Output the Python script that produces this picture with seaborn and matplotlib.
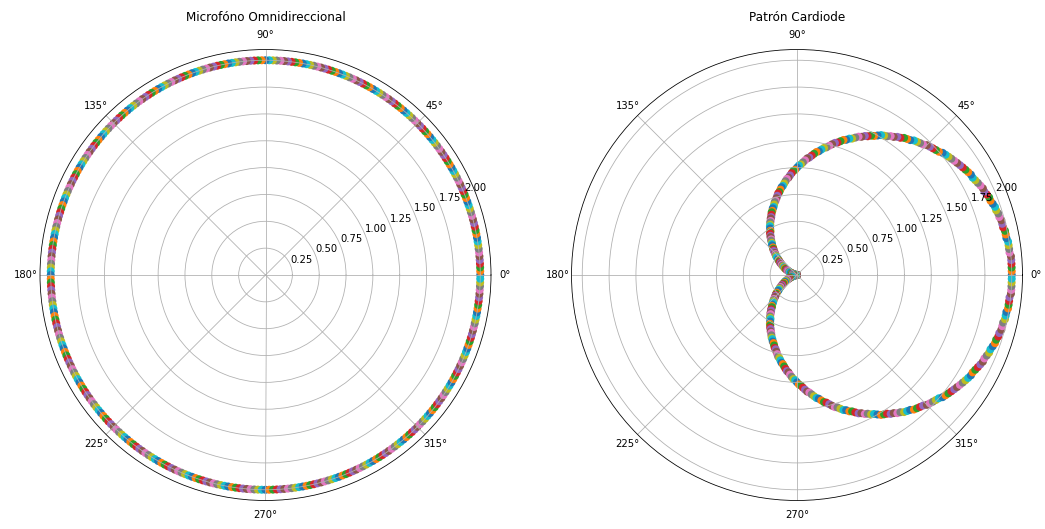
import numpy as np
import pandas as pd
import matplotlib
matplotlib.use("Agg")
import matplotlib.pyplot as plt
import seaborn as sns

# Sample angles in degrees, one point per degree
angle_deg = list(range(360))

# Omnidirectional microphone: constant response
omni_r = [2.0] * 360

# Cardioid response, one value per degree (0..359)
cardioid_r = [
    2.00, 2.00, 2.00, 2.00, 2.00, 2.00, 1.99, 1.99, 1.99, 1.99,
    1.98, 1.98, 1.98, 1.97, 1.97, 1.97, 1.96, 1.96, 1.95, 1.95,
    1.94, 1.93, 1.93, 1.92, 1.91, 1.91, 1.90, 1.89, 1.88, 1.87,
    1.87, 1.86, 1.85, 1.84, 1.83, 1.82, 1.81, 1.80, 1.79, 1.78,
    1.77, 1.75, 1.74, 1.73, 1.72, 1.71, 1.69, 1.68, 1.67, 1.66,
    1.64, 1.63, 1.62, 1.60, 1.59, 1.57, 1.56, 1.54, 1.53, 1.52,
    1.50, 1.48, 1.47, 1.45, 1.44, 1.42, 1.41, 1.39, 1.37, 1.36,
    1.34, 1.33, 1.31, 1.29, 1.28, 1.26, 1.24, 1.22, 1.21, 1.19,
    1.17, 1.16, 1.14, 1.12, 1.10, 1.09, 1.07, 1.05, 1.03, 1.02,
    1.00, 0.98, 0.97, 0.95, 0.93, 0.91, 0.90, 0.88, 0.86, 0.84,
    0.83, 0.81, 0.79, 0.78, 0.76, 0.74, 0.72, 0.71, 0.69, 0.67,
    0.66, 0.64, 0.63, 0.61, 0.59, 0.58, 0.56, 0.55, 0.53, 0.52,
    0.50, 0.48, 0.47, 0.46, 0.44, 0.43, 0.41, 0.40, 0.38, 0.37,
    0.36, 0.34, 0.33, 0.32, 0.31, 0.29, 0.28, 0.27, 0.26, 0.25,
    0.23, 0.22, 0.21, 0.20, 0.19, 0.18, 0.17, 0.16, 0.15, 0.14,
    0.13, 0.13, 0.12, 0.11, 0.10, 0.09, 0.09, 0.08, 0.07, 0.07,
    0.06, 0.05, 0.05, 0.04, 0.04, 0.03, 0.03, 0.03, 0.02, 0.02,
    0.02, 0.01, 0.01, 0.01, 0.01, 0.00, 0.00, 0.00, 0.00, 0.00,
    0.00, 0.00, 0.00, 0.00, 0.00, 0.00, 0.01, 0.01, 0.01, 0.01,
    0.02, 0.02, 0.02, 0.03, 0.03, 0.03, 0.04, 0.04, 0.05, 0.05,
    0.06, 0.07, 0.07, 0.08, 0.09, 0.09, 0.10, 0.11, 0.12, 0.13,
    0.13, 0.14, 0.15, 0.16, 0.17, 0.18, 0.19, 0.20, 0.21, 0.22,
    0.23, 0.25, 0.26, 0.27, 0.28, 0.29, 0.31, 0.32, 0.33, 0.34,
    0.36, 0.37, 0.38, 0.40, 0.41, 0.43, 0.44, 0.46, 0.47, 0.48,
    0.50, 0.52, 0.53, 0.55, 0.56, 0.58, 0.59, 0.61, 0.63, 0.64,
    0.66, 0.67, 0.69, 0.71, 0.72, 0.74, 0.76, 0.78, 0.79, 0.81,
    0.83, 0.84, 0.86, 0.88, 0.90, 0.91, 0.93, 0.95, 0.97, 0.98,
    1.00, 1.02, 1.03, 1.05, 1.07, 1.09, 1.10, 1.12, 1.14, 1.16,
    1.17, 1.19, 1.21, 1.22, 1.24, 1.26, 1.28, 1.29, 1.31, 1.33,
    1.34, 1.36, 1.37, 1.39, 1.41, 1.42, 1.44, 1.45, 1.47, 1.48,
    1.50, 1.52, 1.53, 1.54, 1.56, 1.57, 1.59, 1.60, 1.62, 1.63,
    1.64, 1.66, 1.67, 1.68, 1.69, 1.71, 1.72, 1.73, 1.74, 1.75,
    1.77, 1.78, 1.79, 1.80, 1.81, 1.82, 1.83, 1.84, 1.85, 1.86,
    1.87, 1.87, 1.88, 1.89, 1.90, 1.91, 1.91, 1.92, 1.93, 1.93,
    1.94, 1.95, 1.95, 1.96, 1.96, 1.97, 1.97, 1.97, 1.98, 1.98,
    1.98, 1.99, 1.99, 1.99, 1.99, 2.00, 2.00, 2.00, 2.00, 2.00,
]

titles = ["Microfóno Omnidireccional", "Patrón Cardiode"]
radial_ticks = [0.25, 0.50, 0.75, 1.00, 1.25, 1.50, 1.75, 2.00]

DPI = 72
fig = plt.figure(figsize=(1045 / DPI, 529 / DPI), dpi=DPI)
fig.patch.set_facecolor("white")

W, H = 1045, 529
size = 451
boxes = [
    (40 / W, 28.5 / H, size / W, size / H),
    (571.5 / W, 28.5 / H, size / W, size / H),
]

# each point cycles through the ten default colours
tone_labels = [f"t{k}" for k in range(10)]
palette = sns.color_palette("tab10", 10)

for box, title, radii in zip(boxes, titles, [omni_r, cardioid_r]):
    ax = fig.add_axes(box, projection="polar")
    df = pd.DataFrame({
        "theta": np.deg2rad(angle_deg),
        "r": radii,
        "tone": [tone_labels[i % 10] for i in range(len(angle_deg))],
    })
    sns.scatterplot(
        data=df, x="theta", y="r", hue="tone", hue_order=tone_labels,
        palette=palette, s=64, linewidth=0, legend=False, ax=ax,
    )
    ax.set_ylim(0, 2.1)
    ax.set_yticks(radial_ticks)
    ax.set_yticklabels([f"{v:.2f}" for v in radial_ticks])
    ax.set_xlabel("")
    ax.set_ylabel("")
    ax.grid(True, color="#b0b0b0", linewidth=0.8)
    ax.tick_params(labelsize=10)
    ax.set_title(title, fontsize=12, pad=10)

fig.savefig("out.png", dpi=DPI, facecolor="white")
